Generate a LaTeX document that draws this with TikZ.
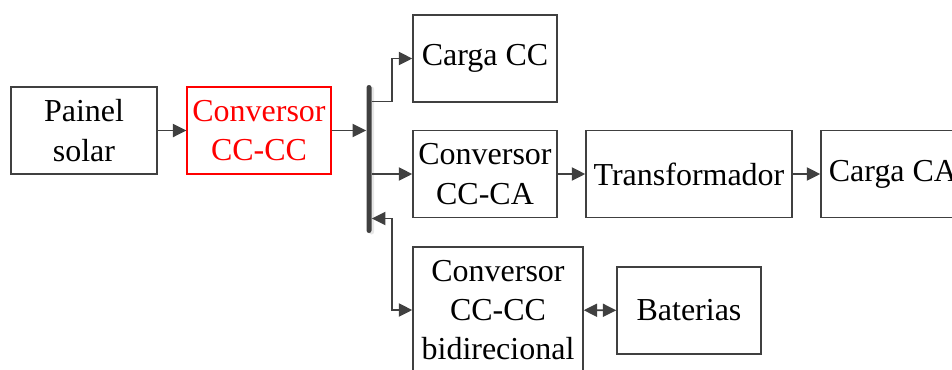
\documentclass[tikz,border=0pt]{standalone}
\usepackage{fontspec}
\setmainfont{Liberation Serif}
\usepackage{xcolor}
\usepackage{tikz}
\usetikzlibrary{arrows.meta,positioning,shadows}
\definecolor{linegray}{RGB}{64,64,64}

\begin{document}
\begin{tikzpicture}[font=\fontsize{18.2}{22.4}\selectfont,
  blk/.style={draw=linegray,line width=0.8pt,align=center,inner sep=0pt,minimum height=1.74cm},
  arr/.style={draw=linegray,line width=1.1pt,-{Triangle[length=2.7mm,width=2.6mm]}},
  arrboth/.style={draw=linegray,line width=1.1pt,{Triangle[length=2.7mm,width=2.6mm]}-{Triangle[length=2.7mm,width=2.6mm]}}]
\useasboundingbox (0,0) rectangle (19.04,-7.38);
\clip (0,0) rectangle (19.04,-7.38);
\foreach \n/\x/\y/\w/\txt in {painel/1.68/-2.61/2.92/{Painel\\solar},cargacc/9.70/-1.17/2.88/{Carga CC},ccca/9.70/-3.48/2.88/{Conversor\\CC-CA},trafo/13.78/-3.48/4.12/Transformador,cargaca/17.86/-3.48/2.88/{Carga CA},bat/13.78/-6.21/2.88/Baterias}{
  \node[blk,minimum width=\w cm] (\n) at (\x,\y) {\txt};
}
\node[blk,draw=red,line width=0.6pt,text=red,minimum width=2.88cm] (dcdc) at (5.18,-2.61) {Conversor\\CC-CC};
\node[blk,minimum width=3.40cm,minimum height=2.52cm] (bidir) at (9.96,-6.20) {Conversor\\CC-CC\\bidirecional};
% barramento CC
\node[fill=linegray,minimum width=0.1cm,minimum height=2.96cm,inner sep=0pt,rounded corners=0.05cm,
  drop shadow={shadow xshift=0.05cm,shadow yshift=-0.03cm,opacity=0.2}] (bus) at (7.38,-3.18) {};
\draw[arr] (painel) -- (dcdc);
\draw[arr] (dcdc) -- (dcdc -| bus.west);
\draw[arr] (bus.east |- 0,-2.03) -| (7.84,-1.17) -- (cargacc);
\draw[arr] (bus.east |- ccca) -- (ccca);
\draw[arr] (ccca) -- (trafo);
\draw[arr] (trafo) -- (cargaca);
\draw[arrboth] (bus.east |- 0,-4.37) -| (7.84,-6.20) -- (bidir);
\draw[arrboth] (bidir) -- (bat);
\end{tikzpicture}
\end{document}
